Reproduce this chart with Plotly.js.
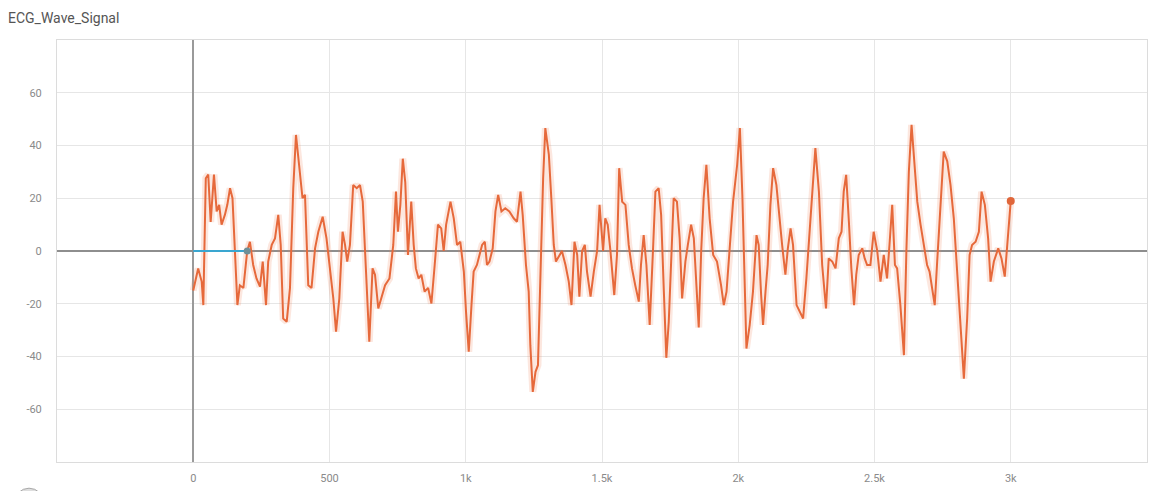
<!DOCTYPE html>
<html>
<head>
<meta charset="utf-8">
<script src="https://cdn.plot.ly/plotly-3.0.1.min.js"></script>
<style>
  html, body { margin: 0; padding: 0; background: #fff; }
  #chart { width: 1164px; height: 491px; }
</style>
</head>
<body>
<div id="chart"></div>
<script>
// ---- Data ----
const chartTitle = "ECG_Wave_Signal";

const ecgSteps = [
  0,18,31,37,46,55,64,76,86,95,104,116,125,135,144,153,162,171,184,198,
  208,220,232,245,255,267,275,288,300,312,321,330,343,355,367,377,392,401,410,422,
  434,447,459,475,489,504,514,524,536,548,557,565,575,587,600,612,622,634,646,658,
  667,679,691,704,720,734,744,
  751,760,769,778,788,800,809,817,827,837,849,862,874,886,898,910,919,928,944,956,
  968,980,993,1001,1011,1021,1029,1041,1050,1060,1070,1078,1087,1099,1109,1119,1131,1145,1160,1176,
  1188,1201,1209,1221,1231,1237,1246,1256,1265,1274,1284,1292,1305,1314,1323,1331,1344,1353,1366,1378,
  1388,1399,1409,1417,1427,1437,1445,1458,1470,1482,1491,
  1504,1512,1521,1531,1545,1555,1563,1574,1586,1598,1610,1622,1635,1643,1653,1663,1675,1687,1696,1708,
  1717,1727,1736,1745,1753,1763,1775,1785,1794,1806,1815,1827,1837,1846,1855,1864,1873,1883,1895,1908,
  1922,1937,1947,1957,1969,1981,1996,2006,2015,2023,2030,2042,2054,2067,2075,2084,2091,2100,2108,2118,
  2128,2140,2152,2161,2173,2182,2192,2201,2214,2226,2238,2250,2262,
  2271,2283,2296,2308,2322,2332,2345,2357,2369,2379,2387,2396,2406,2415,2425,2433,2442,2455,2464,2473,
  2485,2497,2510,2522,2534,2546,2555,2565,2575,2583,2595,2608,2617,2626,2636,2648,2657,2669,2681,2693,
  2702,2712,2721,2730,2742,2754,2767,2779,2791,2803,2816,2828,2840,2849,2858,2871,2883,2893,2905,2917,
  2926,2938,2954,2966,2978,2987,3000
];

const ecgValues = [
  -15,-6.6,-11.6,-20.5,27.6,29,11,29,15,17.5,10,13.7,17.5,23.8,20,1,-20.5,-13,-14,0,
  3.5,-5.3,-10.4,-13.5,-4,-20.5,-4,2.3,4.8,13.7,2.3,-25.6,-26.8,-14,23.8,44,30,20,21.3,-13,
  -14,1,7.3,13,4.8,-7.8,-18,-30.6,-18,7.3,2.3,-4,2.3,25,23.8,25,18.7,-7.8,-34.4,-6.6,
  -9,-21.8,-18,-13,-10.4,2.3,22.5,
  7.3,17.5,35,26,-1.5,18.7,2.3,-6.6,-10.4,-9,-15.4,-14,-19.9,-5.3,10,8.6,0,10,18.7,12.4,
  2.3,3.5,-7.8,-23,-38.2,-20.5,-7.8,-5.3,-1.5,2.3,3.5,-5.3,-4,1,15,21.3,15,16.2,15,12.4,
  11.1,22.5,13.7,-5.3,-15.4,-35.7,-53.4,-45.8,-43.3,-7.8,27.6,46.6,36.5,20,2.3,-4,-1.5,0,-5.3,-11.6,
  -20.5,3.5,-1.5,-17.3,0,2.3,-7.8,-17.3,-7.8,0,17.5,
  0,12.4,10,0,-16.7,-1.5,31.4,18.7,17.5,2.3,-6.6,-13,-19.2,-5.3,6,-5.3,-28,0,22.5,23.8,
  13.7,-15.4,-40.5,-26.8,-7.8,20,18.7,4.8,-18,-4,2.3,10,4.8,-14,-29,0,20,32.7,12.4,-1.5,
  -4,-13,-20.5,-15.4,2.3,18.7,32.7,46.6,21.3,-13,-37,-28,-15.4,6,2.3,-16.7,-28,-15.4,-5.3,17.5,
  31.4,25,11.1,2.3,-9,1,8.6,2.3,-20.5,-23,-25.6,-10.4,7.3,
  22.5,39,22.5,-5.3,-21.8,-2.8,-4,-6.6,4.8,7.3,22.5,28.9,11.1,-6.6,-20.5,-9,-1.5,1,-2.8,-5.3,
  -5.3,7.3,0,-11.6,-1.5,-10.4,2.3,17.5,-5.3,-6.6,-20.5,-39.5,0,30,47.8,30,18.7,10,2.3,-5.3,
  -7.8,-15.4,-20.5,-4,15,37.7,34,25,12.4,-7.8,-26.8,-48.4,-25.6,-1.5,2.3,3.5,7.3,22.5,17.5,4.8,
  -11.6,-4,1,-2.8,-9.7,1,19
];

const blueSteps  = [0, 50, 100, 150, 198];
const blueValues = [0, 0, 0, 0, 0];

const xTickVals  = [-500, 0, 500, 1000, 1500, 2000, 2500, 3000, 3500];
const xTickText  = ["", "0", "500", "1k", "1.5k", "2k", "2.5k", "3k", ""];
const yTickVals  = [-80, -60, -40, -20, 0, 20, 40, 60, 80];
const yTickText  = ["", "-60", "-40", "-20", "0", "20", "40", "60", ""];

// ---- Traces ----
const orange = "#e6693b";
const lastIdx = ecgSteps.length - 1;

const traces = [
  { // faint raw-like halo
    x: ecgSteps, y: ecgValues, type: "scatter", mode: "lines",
    line: { color: "rgba(240,135,95,0.2)", width: 7 },
    hoverinfo: "skip", showlegend: false
  },
  {
    x: ecgSteps, y: ecgValues, type: "scatter", mode: "lines",
    line: { color: orange, width: 2 },
    name: chartTitle, showlegend: false
  },
  {
    x: [ecgSteps[lastIdx]], y: [ecgValues[lastIdx]], type: "scatter", mode: "markers",
    marker: { color: "#e0663a", size: 8 },
    showlegend: false, hoverinfo: "skip"
  },
  {
    x: blueSteps, y: blueValues, type: "scatter", mode: "lines",
    line: { color: "#3aa6d0", width: 1.8 },
    showlegend: false
  },
  {
    x: [blueSteps[blueSteps.length - 1]], y: [blueValues[blueValues.length - 1]],
    type: "scatter", mode: "markers",
    marker: { color: "#6f8f98", size: 7 },
    showlegend: false, hoverinfo: "skip"
  }
];

const axisFont = { family: "Roboto, 'Open Sans', sans-serif", size: 11, color: "#8a8a8a" };

const layout = {
  width: 1164, height: 491,
  margin: { l: 57, r: 17, t: 40, b: 29, pad: 0 },
  paper_bgcolor: "#ffffff", plot_bgcolor: "#ffffff",
  showlegend: false,
  title: {
    text: chartTitle,
    x: 8 / 1164, xanchor: "left",
    y: 1 - 18 / 491, yanchor: "middle",
    font: { family: "Roboto, 'Open Sans', sans-serif", size: 14, color: "#555" }
  },
  xaxis: {
    range: [-500, 3500],
    tickmode: "array", tickvals: xTickVals, ticktext: xTickText,
    showgrid: true, gridcolor: "#e6e6e6", gridwidth: 1,
    zeroline: true, zerolinecolor: "#9a9a9a", zerolinewidth: 1.8,
    showline: true, mirror: true, linecolor: "#dcdcdc", linewidth: 1,
    ticks: "", ticklabelstandoff: 6,
    tickfont: axisFont, fixedrange: true
  },
  yaxis: {
    range: [-80, 80],
    tickmode: "array", tickvals: yTickVals, ticktext: yTickText,
    showgrid: true, gridcolor: "#e6e6e6", gridwidth: 1,
    zeroline: true, zerolinecolor: "#8e8e8e", zerolinewidth: 1.4,
    showline: true, mirror: true, linecolor: "#dcdcdc", linewidth: 1,
    ticks: "", ticklabelstandoff: 12,
    tickfont: axisFont, fixedrange: true
  },
  shapes: [
    {
      type: "circle", xref: "paper", yref: "paper",
      x0: -0.0394, x1: -0.0119, y0: -0.135, y1: -0.062,
      fillcolor: "rgba(160,160,160,0.35)", line: { color: "rgba(120,120,120,0.6)", width: 1 }
    }
  ]
};

Plotly.newPlot("chart", traces, layout, { displayModeBar: false, staticPlot: true });
</script>
</body>
</html>
